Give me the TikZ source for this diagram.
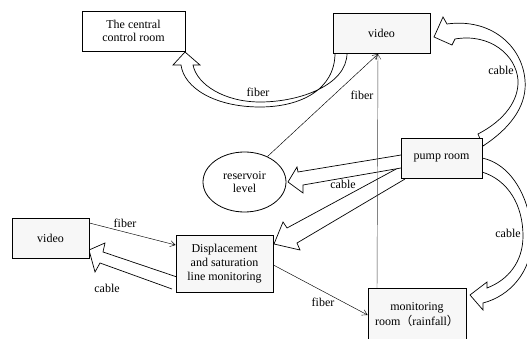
\documentclass[tikz,border=0pt]{standalone}
\usepackage{fontspec}
\setmainfont{Liberation Serif}
\newfontfamily\cjk{Noto Sans CJK SC}
\usetikzlibrary{arrows.meta,shapes.geometric}
\pgfdeclarelayer{bg}
\pgfsetlayers{bg,main}
\begin{document}
\begin{tikzpicture}[x=1pt,y=-1pt,
  every node/.style={font=\fontsize{12}{13.5}\selectfont, align=center, inner sep=0pt},
  boxw/.style={draw, line width=0.8pt, fill=white},
  boxg/.style={draw, line width=0.8pt, fill=gray!6},
  blockarr/.style={draw, line width=0.7pt, fill=white, line join=miter},
  thinarr/.style={line width=0.45pt, -{Straight Barb[length=5pt,width=6pt]}},
  lbl/.style={font=\fontsize{12}{13.5}\selectfont}
]
\useasboundingbox (0,0) rectangle (527,339);

% nodes
\node (ccr)  [boxw, minimum width=103pt, minimum height=40pt] at (133.5,31) {The central\\control room};
\node (vtop) [boxg, minimum width=97pt, minimum height=40pt] at (381.5,33) {video};
\node (pump) [boxg, minimum width=81pt, minimum height=40pt] at (441.5,158) {pump room};
\node (res)  [draw, ellipse, line width=0.8pt, fill=white, minimum width=83pt, minimum height=60pt] at (244.5,182) {reservoir\\level};
\node (vleft)[boxg, minimum width=77pt, minimum height=40pt] at (50.5,238) {video};
\node (disp) [boxg, minimum width=97pt, minimum height=57pt, font=\fontsize{12}{14}\selectfont] at (224.5,263.5) {Displacement\\and saturation\\line monitoring};
\node (mon)  [boxg, minimum width=98pt, minimum height=70pt, anchor=north] at (417,288) {};
\node (montext) [font=\fontsize{12}{15}\selectfont] at (417,315) {monitoring\\room{\cjk （}rainfall{\cjk ）}};

% block arrows (behind the boxes)
\begin{pgfonlayer}{bg}
\fill[white] (0,0) rectangle (527,339);
% video -> central control room (fiber)
\draw[blockarr] (335,53) .. controls (335,90) and (300,107) .. (260,107)
  .. controls (215,107) and (184,88) .. (181,65) -- (173,65) -- (185,52) -- (200,65) -- (193,65)
  .. controls (197,85) and (225,102) .. (260,102)
  .. controls (300,102) and (347,85) .. (347,53);
% pump room -> video top (cable)
\draw[blockarr] (483,146) .. controls (515,125) and (527,102) .. (525,80)
  .. controls (522,45) and (490,18) .. (447,24) -- (443,17) -- (434,37) -- (452,45) -- (455,39)
  .. controls (490,33) and (516,55) .. (518,80)
  .. controls (519,100) and (505,120) .. (478,134) -- cycle;
% pump room -> displacement (cable)
\draw[blockarr] (405,179) -- (297,243) -- (300,250) -- (274,244) -- (283,222) -- (287,228) -- (398,168);
% pump room -> reservoir (cable)
\draw[blockarr] (401,155) -- (298,172) -- (297,167) -- (288,182) -- (303,193) -- (303,185) -- (401,168);
% displacement -> left video (cable)
\draw[blockarr] (177,277) -- (103,252) -- (105,243) -- (89,250) -- (95,272) -- (100,263) -- (172,289);
% pump room -> monitoring room (cable)
\draw[blockarr] (482,158) .. controls (515,165) and (532,205) .. (532,240)
  .. controls (531,272) and (510,296) .. (483,303) -- (483,310) -- (470,295) -- (487,282) -- (487,288)
  .. controls (508,280) and (523,262) .. (523,236)
  .. controls (523,205) and (508,180) .. (482,172);
\end{pgfonlayer}

% thin fiber connectors
\coordinate (vin) at (378,54);
\coordinate (monin) at (377,288);
\draw[thinarr] (res.48) -- (vin);
\draw[thinarr, draw=black!75] (monin) -- (vin);
\draw[thinarr] (vleft.east |- 0,223) -- (disp.west |- 0,245);
\draw[thinarr] (disp.east |- 0,265) -- (mon.west |- 0,315);

% labels
\node[lbl] (l1) at (258,92) {fiber};
\node[lbl] (l2) at (362,95) {fiber};
\node[lbl] (l3) at (501,70) {cable};
\node[lbl] (l4) at (343,184) {cable};
\node[lbl] (l5) at (508,233) {cable};
\node[lbl] (l6) at (125,223) {fiber};
\node[lbl] (l7) at (107,288) {cable};
\node[lbl] (l8) at (323,302) {fiber};
\end{tikzpicture}
\end{document}
